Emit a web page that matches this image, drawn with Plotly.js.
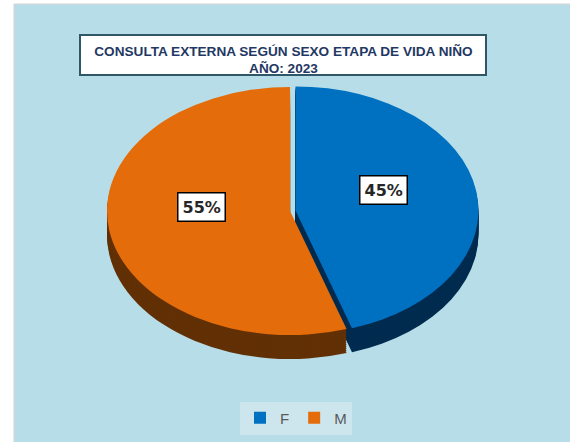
<!DOCTYPE html>
<html>
<head>
<meta charset="utf-8">
<script src="https://cdn.plot.ly/plotly-3.0.1.min.js"></script>
<style>html,body{margin:0;padding:0;background:#fff;}#chart{width:570px;height:442px;}</style>
</head>
<body>
<div id="chart"></div>
<script>
// ---- data ----
const labels = ['F', 'M'];
const values = [45, 55];
const topColors = ['#0070C0', '#E46C0A'];
const sideColors = ['#002B4F', '#623005'];
const titleText = 'CONSULTA EXTERNA SEGÚN SEXO ETAPA DE VIDA NIÑO<br>AÑO: 2023';

// ---- geometry (layout only) ----
const W = 570, H = 442;
const cxPx = 290;          // pie centre x (px)
const sx = 1.476;          // horizontal stretch -> elliptical (tilted) pie
const baseDomY = [0.2337, 0.8116];
const domX = [0.2588, 0.7588];
const depth = 24, step = 2;
const pulls = [0.03, 0];

const traces = [];
for (let d = depth; d >= 0; d -= step) {
  const top = d === 0;
  traces.push({
    type: 'pie',
    labels: labels,
    values: values,
    sort: false,
    direction: 'clockwise',
    rotation: 0,
    pull: pulls,
    textinfo: 'none',
    hoverinfo: 'skip',
    showlegend: top,
    marker: {colors: top ? topColors : sideColors, line: {width: 0}},
    domain: {x: domX, y: [baseDomY[0] - d / H, baseDomY[1] - d / H]}
  });
}

const total = values.reduce((a, b) => a + b, 0);
const pct = values.map(v => Math.round(100 * v / total) + '%');
const labelPos = [[383 / W, 1 - 190 / H], [201 / W, 1 - 207 / H]];
const annotations = pct.map((t, i) => ({
  text: '<b>' + t + '</b>',
  xref: 'paper', yref: 'paper',
  x: labelPos[i][0], y: labelPos[i][1],
  xanchor: 'center', yanchor: 'middle',
  showarrow: false,
  font: {family: 'DejaVu Sans, Verdana, sans-serif', size: 16, color: '#262626'},
  bgcolor: '#FFFFFF', bordercolor: '#000000', borderwidth: 1.5, borderpad: 4
}));

const layout = {
  width: W, height: H,
  margin: {l: 0, r: 0, t: 0, b: 0},
  paper_bgcolor: '#FFFFFF',
  title: {
    text: '<b>' + titleText + '</b>',
    font: {family: 'Liberation Sans, Arial, sans-serif', size: 13.6, color: '#1F3864'},
    x: 283.5 / W, xanchor: 'center', xref: 'paper',
    y: 1 - 55.5 / H, yanchor: 'middle', yref: 'paper'
  },
  shapes: [
    {type: 'rect', xref: 'paper', yref: 'paper', x0: 14 / W, x1: 1.01, y0: -0.01, y1: 1 - 4 / H,
     fillcolor: '#B7DEE8', line: {color: '#D3D3D3', width: 1}, layer: 'below'},
    {type: 'rect', xref: 'paper', yref: 'paper', x0: 80 / W, x1: 486 / W, y0: 1 - 75 / H, y1: 1 - 35 / H,
     fillcolor: '#FFFFFF', line: {color: '#2F5767', width: 2}, layer: 'below'}
  ],
  annotations: annotations,
  showlegend: true,
  legend: {
    orientation: 'h', x: 296 / W, xanchor: 'center', y: 1 - 418 / H, yanchor: 'middle',
    bgcolor: '#CDE6ED', borderwidth: 0, itemwidth: 30,
    font: {family: 'Liberation Sans, Arial, sans-serif', size: 15, color: '#595959'}
  }
};

Plotly.newPlot('chart', traces, layout, {staticPlot: true, displayModeBar: false}).then(gd => {
  const layer = gd.querySelector('.pielayer');
  if (layer) layer.setAttribute('transform', 'matrix(' + sx + ',0,0,1,' + (cxPx * (1 - sx)) + ',0)');
});
</script>
</body>
</html>
